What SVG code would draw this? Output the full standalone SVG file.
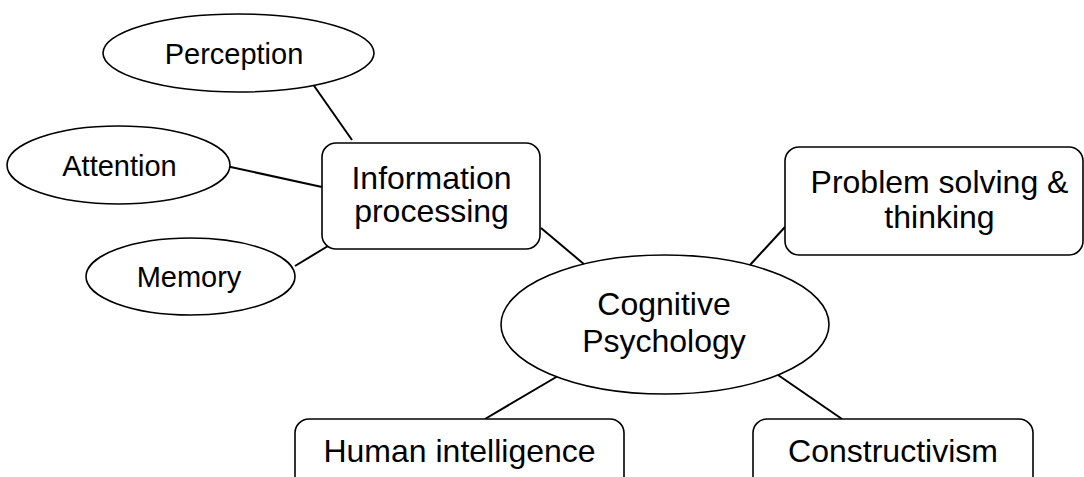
<svg xmlns="http://www.w3.org/2000/svg" width="1084" height="477" viewBox="0 0 1084 477">
<style>
.shape{fill:#fff;stroke:#000;stroke-width:1.6}
.conn line{stroke:#000;stroke-width:2}
text{font-family:"Liberation Sans",Arial,sans-serif;fill:#000;text-anchor:middle}
.sm{font-size:29px}
.lg{font-size:32px}
</style>
<rect width="1084" height="477" fill="#fff"/>
<g class="conn" id="connectors">
<line x1="310" y1="80" x2="352" y2="140"/>
<line x1="226" y1="166" x2="322" y2="187"/>
<line x1="295" y1="266" x2="328" y2="246"/>
<line x1="541" y1="228" x2="585" y2="265"/>
<line x1="785" y1="227" x2="750" y2="265"/>
<line x1="558" y1="376" x2="485" y2="419"/>
<line x1="778" y1="375" x2="842" y2="419"/>
</g>
<g id="perception">
<ellipse class="shape" cx="238.5" cy="53" rx="135.5" ry="39"/>
<text class="sm" x="234" y="63.5">Perception</text>
</g>
<g id="attention">
<ellipse class="shape" cx="118.5" cy="165" rx="111.5" ry="39"/>
<text class="sm" x="119.5" y="175.5">Attention</text>
</g>
<g id="memory">
<ellipse class="shape" cx="190.5" cy="276.5" rx="104.5" ry="38.5"/>
<text class="sm" x="189" y="287">Memory</text>
</g>
<g id="information-processing">
<rect class="shape" x="322" y="143" width="218" height="106" rx="14"/>
<text class="lg" x="431.5" y="188.5">Information</text>
<text class="lg" x="431.5" y="222">processing</text>
</g>
<g id="problem-solving">
<rect class="shape" x="785" y="147" width="298" height="108" rx="14"/>
<text class="lg" x="939.5" y="193">Problem solving &amp;</text>
<text class="lg" x="939.5" y="228">thinking</text>
</g>
<g id="cognitive-psychology">
<ellipse class="shape" cx="665" cy="324.5" rx="164" ry="69.5"/>
<text class="lg" x="664" y="315">Cognitive</text>
<text class="lg" x="664" y="352">Psychology</text>
</g>
<g id="human-intelligence">
<rect class="shape" x="295" y="419" width="329" height="80" rx="14"/>
<text class="lg" x="459.5" y="462">Human intelligence</text>
</g>
<g id="constructivism">
<rect class="shape" x="753" y="419" width="280" height="80" rx="14"/>
<text class="lg" x="893" y="462">Constructivism</text>
</g>
</svg>
